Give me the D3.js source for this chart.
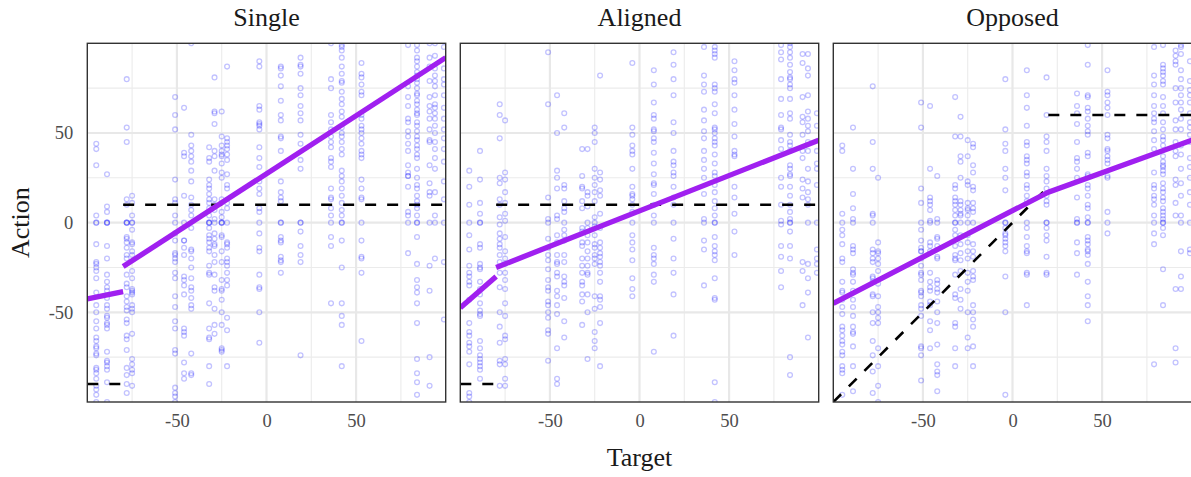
<!DOCTYPE html>
<html>
<head>
<meta charset="utf-8">
<script src="https://cdn.jsdelivr.net/npm/d3@7"></script>
<style>
  body { margin: 0; background: #fff; }
  svg text { font-family: "Liberation Serif", "DejaVu Serif", serif; }
</style>
</head>
<body>
<svg id="chart" width="1191" height="477"></svg>
<script>
// target values (columns of points), shared by all panels
const targets = [-95, -89, -78, -75, -51, -46, -42, -32, -29, -25, -22, -4, 8, 19, 36, 42, 53, 79, 84, 91, 94, 99]

const panelNames = ['Single', 'Aligned', 'Opposed']

// action values, one list per target column
const singleY = [
  [44,41,32,4,0,0,-12,-22,-23,-25,-27,-31,-39,-46,-50,-55,-59,-64,-66,-69,-70,-73,-74,-81,-82,-84,-87,-91,-93,-96,-100],
  [27,9,6,0,0,0,-13,-20,-29,-33,-36,-38,-42,-46,-48,-52,-53,-56,-57,-59,-72,-77,-78,-80,-82,-89,-100],
  [80,53,45,13,10,0,0,0,-8,-9,-11,-14,-18,-20,-29,-34,-36,-41,-44,-47,-49,-54,-56,-63,-65,-71,-81,-85,-90,-95],
  [15,11,4,0,0,-4,-11,-12,-16,-18,-27,-31,-37,-38,-39,-40,-46,-48,-50,-62,-76,-79,-82,-84,-91],
  [70,60,52,24,13,11,4,0,-6,-10,-17,-18,-20,-22,-28,-31,-41,-47,-55,-59,-71,-73,-92,-95,-97,-100],
  [64,39,37,15,0,-10,-10,-14,-18,-30,-32,-35,-40,-59,-61,-63,-78,-84,-87],
  [100,49,43,40,37,34,29,23,14,10,7,4,-3,-15,-16,-20,-25,-31,-36,-38,-42,-46,-48,-73,-84,-85],
  [42,36,34,24,21,19,16,13,11,8,4,0,0,0,-3,-7,-9,-11,-14,-16,-24,-28,-29,-45,-59,-64,-65,-80,-90],
  [81,62,61,55,40,37,29,13,10,7,2,0,-6,-9,-12,-13,-18,-22,-29,-36,-38,-48,-57,-62],
  [62,48,43,40,38,37,33,28,25,13,6,3,0,0,0,-7,-8,-16,-22,-32,-37,-38,-43,-50,-57,-70,-71,-72],
  [87,47,45,43,41,38,35,27,21,19,11,8,0,-11,-12,-14,-20,-22,-24,-28,-32,-35,-53,-60,-80],
  [90,87,65,63,56,55,54,52,42,36,31,23,19,16,8,6,0,-6,-14,-16,-29,-36,-37,-50,-67],
  [87,86,82,76,68,60,57,48,47,40,23,17,14,12,0,0,-8,-10,-11,-19,-21,-22,-28],
  [92,88,87,83,75,71,65,61,57,49,44,35,30,0,0,-5,-13,-18,-22,-74],
  [100,80,75,60,56,52,48,45,42,36,34,31,19,14,13,8,4,0,-8,-13,-45],
  [99,98,96,92,87,83,79,78,73,69,66,62,59,53,50,48,45,41,38,29,26,23,19,15,11,7,4,0,0,-10,-25,-45,-52,-57,-80],
  [89,83,81,77,73,71,60,58,54,52,50,47,44,40,38,36,24,19,14,13,0,-10,-19,-20,-28,-66],
  [99,76,70,65,58,56,51,48,44,40,32,28,26,26,20,6,4,0,-17],
  [99,96,92,90,87,84,82,80,78,75,72,71,68,66,63,61,60,56,54,51,48,46,43,41,38,36,30,25,21,19,15,12,10,8,4,0,0,-8,-23,-32,-36,-39,-45,-56,-76,-84,-89,-96],
  [100,92,87,79,70,65,62,58,52,46,45,32,22,17,15,0,-24,-38,-75,-91],
  [100,93,86,82,79,76,71,66,64,61,58,54,50,45,41,36,30,17,4,0,-20],
  [98,86,80,77,71,64,58,52,47,41,34,23,13,0,-22,-54]
]

const alignedY = [
  [29,20,10,0,-7,-15,-24,-28,-30,-33,-35,-43,-56,-61,-63,-67,-69,-72,-79,-95,-97,-100],
  [40,24,11,5,0,0,-12,-14,-23,-25,-26,-33,-37,-40,-45,-49,-51,-52,-66,-70,-74,-76,-78,-80,-82,-87],
  [66,60,47,25,22,13,10,3,-1,-6,-9,-12,-14,-18,-22,-28,-36,-50,-58,-67,-77,-79,-91],
  [57,28,24,17,11,5,1,-8,-16,-20,-23,-28,-32,-37,-45,-52,-63,-65,-76,-79,-87,-91],
  [95,66,14,2,0,-9,-14,-18,-21,-26,-32,-36,-38,-44,-46,-50,-53,-60,-62,-77],
  [71,50,29,25,19,4,2,-7,-11,-18,-22,-23,-28,-30,-38,-41,-46,-51,-70,-87,-90],
  [61,53,21,19,12,8,6,0,-4,-7,-10,-18,-22,-30,-33,-35,-42,-55,-64],
  [41,26,20,19,12,8,-3,-5,-11,-13,-20,-24,-28,-33,-35,-40,-44,-57],
  [41,17,15,9,0,-3,-7,-11,-16,-20,-24,-28,-29,-40,-50,-76],
  [53,50,45,30,25,21,17,12,3,0,-2,-7,-12,-14,-18,-20,-23,-41,-48,-61,-66,-70],
  [82,28,24,18,15,5,-3,-11,-14,-17,-19,-22,-24,-28,-33,-41,-43,-47,-56,-80],
  [89,53,49,43,40,38,30,20,16,15,13,10,6,0,-7,-11,-15,-21,-31,-37,-41],
  [85,77,67,60,58,52,51,47,45,39,33,27,22,21,16,10,4,0,-14,-18,-20,-23,-29,-33,-72],
  [95,88,80,71,56,50,40,34,32,28,26,20,14,10,0,-9,-20,-28,-40,-63],
  [98,82,77,73,63,57,51,47,40,35,30,25,16,2,0,-10,-15,-35],
  [98,96,94,92,77,75,73,66,61,53,52,50,47,45,43,38,33,28,26,21,17,12,8,4,0,0,-8,-13,-16,-18,-21,-31,-42,-43,-89,-100],
  [90,85,80,78,71,63,55,48,40,38,37,20,14,5,-5,-18],
  [99,95,91,80,69,60,53,52,46,41,25,20,10,1,-1,-13,-19,-27,-36],
  [100,98,95,92,88,84,81,80,77,75,69,61,58,49,45,43,40,32,30,27,26,20,15,10,6,2,0,0,-5,-13,-20,-75,-85],
  [94,89,70,59,56,49,40,36,24,19,14,-22,-27,-46],
  [94,86,82,71,62,58,54,51,45,40,30,23,17,13,10,0,-23,-31,-39,-64],
  [61,54,40,33,30,21,0,-15,-20,-23,-28]
]

const opposedY = [
  [43,40,5,0,-4,-7,-12,-20,-22,-33,-38,-39,-43,-47,-51,-58,-60,-63,-66,-68,-72,-74,-80,-82,-84,-96],
  [53,30,16,8,2,0,-13,-15,-17,-26,-28,-29,-33,-38,-43,-47,-52,-58,-61,-62,-69,-80,-94],
  [76,45,30,5,4,0,-15,-17,-20,-22,-30,-31,-33,-40,-41,-50,-56,-66,-74,-83,-95],
  [25,-11,-16,-17,-20,-23,-27,-34,-41,-47,-50,-53,-56,-70,-80,-91,-100],
  [67,53,19,11,0,-4,-10,-14,-16,-16,-20,-24,-28,-29,-32,-38,-39,-41,-46,-48,-52,-69,-70,-74,-88],
  [65,30,14,12,10,7,1,0,-11,-13,-16,-28,-33,-36,-38,-44,-46,-55,-60,-70],
  [26,2,0,-8,-9,-13,-19,-20,-32,-34,-37,-39,-44,-50,-56,-68,-79,-83,-85,-94],
  [70,48,21,19,14,12,10,7,4,0,0,-4,-7,-13,-18,-20,-21,-29,-40,-42,-56,-58,-70,-80],
  [59,48,37,34,25,12,10,7,5,4,0,-7,-12,-17,-21,-27,-37,-43,-48],
  [46,37,23,21,11,8,7,4,0,-7,-11,-16,-20,-28,-33,-38,-50,-64,-70],
  [44,42,32,28,20,18,11,8,6,0,-12,-16,-19,-27,-30,-32,-46,-50,-54,-58,-69,-80],
  [80,52,44,40,30,25,18,0,0,-3,-6,-7,-9,-11,-13,-16,-30,-50,-96],
  [85,71,64,54,45,43,37,35,33,28,26,21,19,15,12,0,-3,-8,-13,-16,-17,-28,-29,-46],
  [81,60,48,45,40,30,26,23,19,15,12,10,0,0,-3,-7,-10,-19,-28,-29],
  [72,65,61,55,45,36,34,30,25,14,2,0,0,-11,-17,-29],
  [99,88,71,70,64,62,58,54,51,49,39,37,27,26,21,19,15,10,8,3,0,0,-8,-10,-12,-15,-16,-18,-23,-33,-41,-46,-55],
  [85,73,71,67,64,60,49,47,41,40,37,35,33,26,25,6,0,-6],
  [98,82,77,71,65,61,58,56,51,46,41,28,21,19,15,13,10,4,0,-6,-12,-79],
  [99,88,86,84,82,79,77,70,65,61,56,52,48,46,43,37,34,32,31,29,27,22,19,17,14,12,8,6,4,2,0,0,-3,-7,-26,-46],
  [96,93,90,88,75,67,57,52,45,40,37,24,21,11,4,-37,-70,-78],
  [99,98,94,85,80,75,71,67,63,58,52,43,38,30,22,15,4,0,-16,-30,-37],
  [90,79,74,71,67,61,56,53,49,45,36,31,25,17,10,0,-15,-17]
]

// fitted model (purple) segments, [target, action] knots
const singleFit = [[[-100, -42.5], [-80, -38.5]], [[-80, -24.5], [100, 92]]]
const alignedFit = [[[-100, -47.5], [-80, -30]], [[-80, -25], [100, 46]]]
const opposedFit = [[[-100, -45], [20, 17], [100, 46]]]

// reference (dashed) segments
const singleRef = [[[-100, -90], [-80, -90]], [[-80, 10], [100, 10]]]
const alignedRef = [[[-100, -90], [-80, -90]], [[-80, 10], [100, 10]]]
const opposedRef = [[[-100, -100], [20, 20]], [[20, 60], [100, 60]]]

const majorTicks = [-50, 0, 50]
const minorTicks = [-75, -25, 25, 75]

const panels = [
  { name: panelNames[0], pts: singleY, fit: singleFit, ref: singleRef },
  { name: panelNames[1], pts: alignedY, fit: alignedFit, ref: alignedRef },
  { name: panelNames[2], pts: opposedY, fit: opposedFit, ref: opposedRef }
]

const svg = d3.select('#chart')
const pw = 358.4, ph = 358.7
const panelTop = 43.3
const lefts = [87.3, 460.3, 833.3]

const x = d3.scaleLinear().domain([-100, 100]).range([0, pw])
const y = d3.scaleLinear().domain([-100, 100]).range([ph, 0])
const line = d3.line().x(d => x(d[0])).y(d => y(d[1]))

panels.forEach((p, k) => {
  const g = svg.append('g').attr('transform', `translate(${lefts[k]},${panelTop})`)

  g.append('clipPath').attr('id', 'clip' + k)
    .append('rect').attr('width', pw).attr('height', ph)

  // grid
  const grid = g.append('g')
  grid.selectAll('.vmin').data(minorTicks).join('line')
    .attr('x1', d => x(d)).attr('x2', d => x(d)).attr('y1', 0).attr('y2', ph)
    .attr('stroke', '#ebebeb').attr('stroke-width', 1.1)
  grid.selectAll('.hmin').data(minorTicks).join('line')
    .attr('y1', d => y(d)).attr('y2', d => y(d)).attr('x1', 0).attr('x2', pw)
    .attr('stroke', '#ebebeb').attr('stroke-width', 1.1)
  grid.selectAll('.vmaj').data(majorTicks).join('line')
    .attr('x1', d => x(d)).attr('x2', d => x(d)).attr('y1', 0).attr('y2', ph)
    .attr('stroke', '#e8e8e8').attr('stroke-width', 2.2)
  grid.selectAll('.hmaj').data(majorTicks).join('line')
    .attr('y1', d => y(d)).attr('y2', d => y(d)).attr('x1', 0).attr('x2', pw)
    .attr('stroke', '#e8e8e8').attr('stroke-width', 2.2)

  const plot = g.append('g').attr('clip-path', `url(#clip${k})`)

  // points
  const pts = []
  p.pts.forEach((col, i) => col.forEach(v => pts.push([targets[i], v])))
  plot.selectAll('circle').data(pts).join('circle')
    .attr('cx', d => x(d[0])).attr('cy', d => y(d[1])).attr('r', 2.4)
    .attr('fill', 'none').attr('stroke', 'rgba(0,0,255,0.24)').attr('stroke-width', 1.3)

  // dashed reference
  p.ref.forEach(seg => {
    plot.append('path').attr('d', line(seg)).attr('fill', 'none')
      .attr('stroke', '#000').attr('stroke-width', 2.6).attr('stroke-dasharray', '11,11')
  })

  // fitted lines
  p.fit.forEach(seg => {
    plot.append('path').attr('d', line(seg)).attr('fill', 'none')
      .attr('stroke', '#a020f0').attr('stroke-width', 5.3)
  })

  // frame
  g.append('rect').attr('width', pw).attr('height', ph)
    .attr('fill', 'none').attr('stroke', '#333').attr('stroke-width', 1.4)

  // title
  g.append('text').attr('x', pw / 2).attr('y', -17).attr('text-anchor', 'middle')
    .attr('font-size', 26).attr('fill', '#1a1a1a').text(p.name)

  // x axis
  const xa = g.append('g').attr('transform', `translate(0,${ph})`)
    .call(d3.axisBottom(x).tickValues(majorTicks).tickSize(0).tickPadding(12).tickFormat(d => String(d)))
  xa.select('.domain').remove()
  xa.selectAll('text').attr('font-size', 18.5).attr('fill', '#4d4d4d')
    .attr('font-family', '"Liberation Serif", "DejaVu Serif", serif')

  if (k === 0) {
    const ya = g.append('g')
      .call(d3.axisLeft(y).tickValues(majorTicks).tickSize(0).tickPadding(14).tickFormat(d => String(d)))
    ya.select('.domain').remove()
    ya.selectAll('text').attr('font-size', 18.5).attr('fill', '#4d4d4d')
      .attr('font-family', '"Liberation Serif", "DejaVu Serif", serif')
  }
})

// axis titles
svg.append('text').attr('x', lefts[1] + pw / 2).attr('y', 466).attr('text-anchor', 'middle')
  .attr('font-size', 26).attr('fill', '#1a1a1a').text('Target')
svg.append('text').attr('transform', `translate(29,${panelTop + ph / 2}) rotate(-90)`)
  .attr('text-anchor', 'middle').attr('font-size', 26).attr('fill', '#1a1a1a').text('Action')
</script>
</body>
</html>
